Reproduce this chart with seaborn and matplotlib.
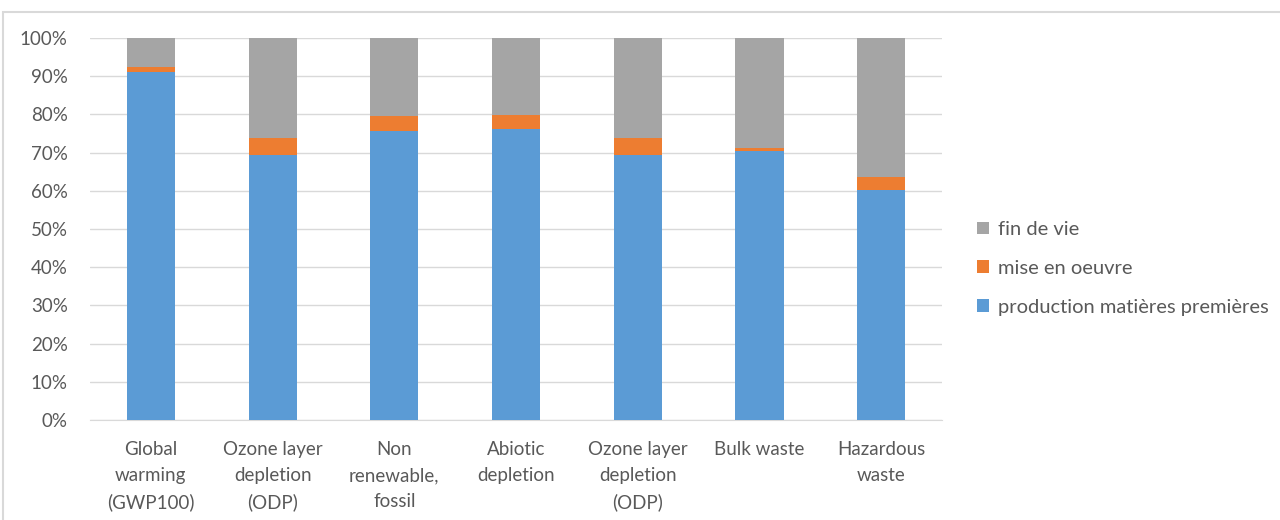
import pandas as pd
import matplotlib.pyplot as plt
import seaborn as sns
from matplotlib.patches import Rectangle
from matplotlib.ticker import PercentFormatter

categories = ['Global\nwarming\n(GWP100)', 'Ozone layer\ndepletion\n(ODP)', 'Non\nrenewable,\nfossil',
              'Abiotic\ndepletion', 'Ozone layer\ndepletion\n(ODP)', 'Bulk waste', 'Hazardous\nwaste']
production = [91.0, 69.4, 75.7, 76.1, 69.4, 70.5, 60.3]
mise_en_oeuvre = [1.5, 4.5, 3.9, 3.7, 4.5, 0.8, 3.2]
fin_de_vie = [7.5, 26.1, 20.4, 20.2, 26.1, 28.7, 36.5]

blue, orange, grey = '#5B9BD5', '#ED7D31', '#A5A5A5'
text_col = '#595959'

# unique keys because two categories share the same label
df = pd.DataFrame({'key': [str(i) for i in range(len(categories))],
                   'prod': production, 'mise': mise_en_oeuvre, 'fin': fin_de_vie})
df['top_mise'] = df['prod'] + df['mise']
df['top_fin'] = df['top_mise'] + df['fin']

sns.set_style('white')
plt.rcParams['font.family'] = ['Lato', 'DejaVu Sans']

fig = plt.figure(figsize=(12.8, 5.2), dpi=100)
ax = fig.add_axes([0.0703, 0.1923, 0.6657, 0.7346])

bar_kw = dict(width=0.395, saturation=1, linewidth=0, ax=ax, zorder=3)
sns.barplot(data=df, x='key', y='top_fin', color=grey, label='fin de vie', **bar_kw)
sns.barplot(data=df, x='key', y='top_mise', color=orange, label='mise en oeuvre', **bar_kw)
sns.barplot(data=df, x='key', y='prod', color=blue, label='production matières premières', **bar_kw)

ax.set_ylim(0, 100)
ax.set_xlim(-0.5, len(categories) - 0.5)
ax.set_yticks(range(0, 101, 10))
ax.yaxis.set_major_formatter(PercentFormatter(decimals=0))
ax.set_xticks(range(len(categories)))
ax.set_xticklabels(categories, linespacing=1.65)
ax.set_xlabel('')
ax.set_ylabel('')
ax.grid(axis='y', color='#D9D9D9', linewidth=1, zorder=0)
for s in ['top', 'right', 'left']:
    ax.spines[s].set_visible(False)
ax.spines['bottom'].set_color('#D9D9D9')
ax.tick_params(axis='both', colors=text_col, labelsize=13.5, length=0)
ax.tick_params(axis='x', pad=15)
ax.tick_params(axis='y', pad=16)

handles, labels = ax.get_legend_handles_labels()
leg = ax.legend(handles, labels, loc='center left', bbox_to_anchor=(1.02, 0.397), frameon=False,
                fontsize=14.5, labelcolor=text_col, handlelength=0.6, handleheight=0.6,
                handletextpad=0.45, labelspacing=1.08)

fig.patches.append(Rectangle((3 / 1280, -0.01), 1.0, 1 - 12 / 520 + 0.01, transform=fig.transFigure,
                             fill=False, edgecolor='#D9D9D9', linewidth=1.5))

fig.savefig('out.png', dpi=100)
